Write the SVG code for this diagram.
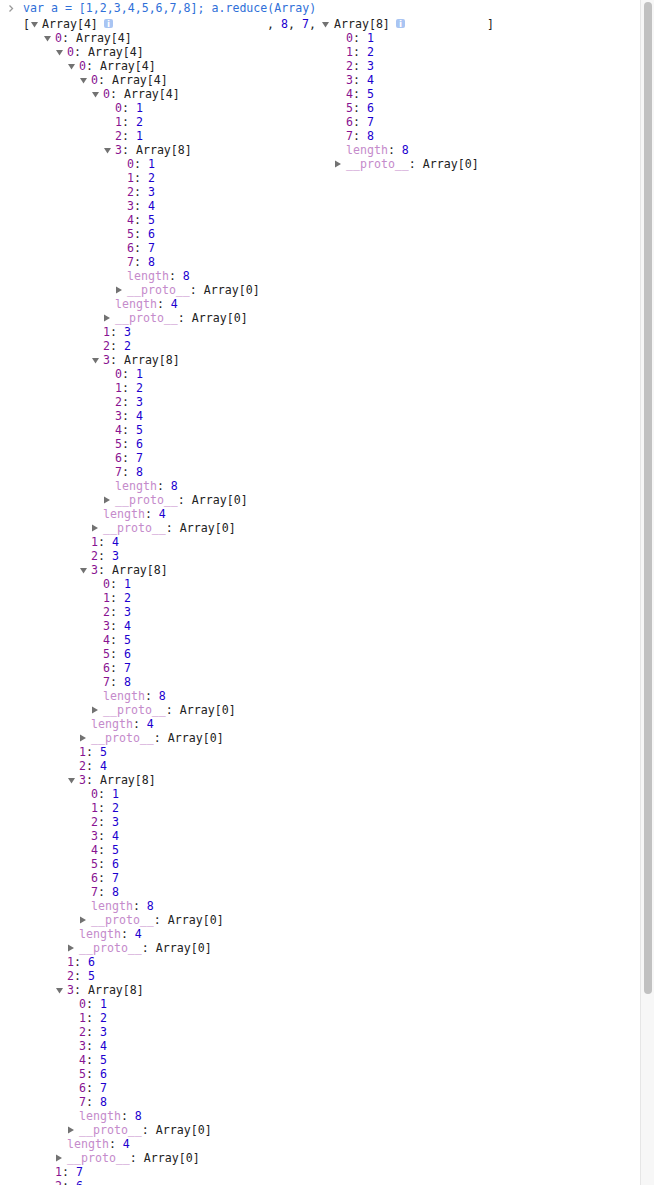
<svg xmlns="http://www.w3.org/2000/svg" xmlns:xlink="http://www.w3.org/1999/xlink" width="654" height="1185" viewBox="0 0 654 1185">
<style>
text{font-family:"DejaVu Sans Mono","Liberation Mono",monospace;font-size:11.6px;fill:#222}
.k{fill:#881391}
.n{fill:#1c00cf}
.f{fill:#c58bcb}
.c{fill:#2f6fd8}
.tri{fill:#727272}
.info{fill:#a9c5f3}
.infot{font-family:"DejaVu Sans","Liberation Sans",sans-serif;font-size:9px;font-weight:bold;fill:#fff}
</style>
<defs>
<path id="tdn" class="tri" d="M0,0H7L3.5,5.5Z"/>
<path id="trt" class="tri" d="M0,0L6,3.5L0,7Z"/>
</defs>
<rect width="654" height="1185" fill="#fff"/>
<g id="scrollbar">
<rect x="640" y="0" width="14" height="1185" fill="#f7f7f7"/>
<line x1="640.5" y1="0" x2="640.5" y2="1185" stroke="#e6e6e6"/>
<rect x="644" y="2" width="8" height="992" rx="4" fill="#c1c1c1"/>
</g>
<g id="command">
<path d="M9.5,5.5L12.5,8.5L9.5,11.5" fill="none" stroke="#9a9a9a" stroke-width="1.3"/>
<text x="23" y="12" class="c">var a = [1,2,3,4,5,6,7,8]; a.reduce(Array)</text>
</g>
<g id="result-header">
<text x="23" y="28">[</text>
<use xlink:href="#tdn" x="31" y="22"/>
<text x="42" y="28">Array[4]</text>
<rect class="info" x="104" y="19" width="9" height="9" rx="2"/>
<text class="infot" x="108.5" y="26.5" text-anchor="middle">i</text>
<text x="267" y="28">, <tspan class="n">8</tspan>, <tspan class="n">7</tspan>,</text>
<use xlink:href="#tdn" x="322" y="22"/>
<text x="334" y="28">Array[8]</text>
<rect class="info" x="396" y="19" width="9" height="9" rx="2"/>
<text class="infot" x="400.5" y="26.5" text-anchor="middle">i</text>
<text x="487" y="28">]</text>
</g>
<g id="tree-right">
<text x="346" y="42"><tspan class="k">0</tspan>: <tspan class="n">1</tspan></text>
<text x="346" y="56"><tspan class="k">1</tspan>: <tspan class="n">2</tspan></text>
<text x="346" y="70"><tspan class="k">2</tspan>: <tspan class="n">3</tspan></text>
<text x="346" y="84"><tspan class="k">3</tspan>: <tspan class="n">4</tspan></text>
<text x="346" y="98"><tspan class="k">4</tspan>: <tspan class="n">5</tspan></text>
<text x="346" y="112"><tspan class="k">5</tspan>: <tspan class="n">6</tspan></text>
<text x="346" y="126"><tspan class="k">6</tspan>: <tspan class="n">7</tspan></text>
<text x="346" y="140"><tspan class="k">7</tspan>: <tspan class="n">8</tspan></text>
<text x="346" y="154"><tspan class="f">length</tspan>: <tspan class="n">8</tspan></text>
<use xlink:href="#trt" x="335" y="160.5"/>
<text x="346" y="168"><tspan class="f">__proto__</tspan>: Array[0]</text>
</g>
<g id="tree-left">
<g id="arrA-head">
<use xlink:href="#tdn" x="44" y="36"/><text x="55" y="42"><tspan class="k">0</tspan>: Array[4]</text>
<use xlink:href="#tdn" x="56" y="50"/><text x="67" y="56"><tspan class="k">0</tspan>: Array[4]</text>
<use xlink:href="#tdn" x="68" y="64"/><text x="79" y="70"><tspan class="k">0</tspan>: Array[4]</text>
<use xlink:href="#tdn" x="80" y="78"/><text x="91" y="84"><tspan class="k">0</tspan>: Array[4]</text>
<use xlink:href="#tdn" x="92" y="92"/><text x="103" y="98"><tspan class="k">0</tspan>: Array[4]</text>
</g>
<g id="arrE">
<text x="115" y="112"><tspan class="k">0</tspan>: <tspan class="n">1</tspan></text>
<text x="115" y="126"><tspan class="k">1</tspan>: <tspan class="n">2</tspan></text>
<text x="115" y="140"><tspan class="k">2</tspan>: <tspan class="n">1</tspan></text>
<use xlink:href="#tdn" x="104" y="148"/><text x="115" y="154"><tspan class="k">3</tspan>: Array[8]</text>
<text x="127" y="168"><tspan class="k">0</tspan>: <tspan class="n">1</tspan></text>
<text x="127" y="182"><tspan class="k">1</tspan>: <tspan class="n">2</tspan></text>
<text x="127" y="196"><tspan class="k">2</tspan>: <tspan class="n">3</tspan></text>
<text x="127" y="210"><tspan class="k">3</tspan>: <tspan class="n">4</tspan></text>
<text x="127" y="224"><tspan class="k">4</tspan>: <tspan class="n">5</tspan></text>
<text x="127" y="238"><tspan class="k">5</tspan>: <tspan class="n">6</tspan></text>
<text x="127" y="252"><tspan class="k">6</tspan>: <tspan class="n">7</tspan></text>
<text x="127" y="266"><tspan class="k">7</tspan>: <tspan class="n">8</tspan></text>
<text x="127" y="280"><tspan class="f">length</tspan>: <tspan class="n">8</tspan></text>
<use xlink:href="#trt" x="116" y="286.5"/><text x="127" y="294"><tspan class="f">__proto__</tspan>: Array[0]</text>
<text x="115" y="308"><tspan class="f">length</tspan>: <tspan class="n">4</tspan></text>
<use xlink:href="#trt" x="104" y="314.5"/><text x="115" y="322"><tspan class="f">__proto__</tspan>: Array[0]</text>
</g>
<g id="arrD">
<text x="103" y="336"><tspan class="k">1</tspan>: <tspan class="n">3</tspan></text>
<text x="103" y="350"><tspan class="k">2</tspan>: <tspan class="n">2</tspan></text>
<use xlink:href="#tdn" x="92" y="358"/><text x="103" y="364"><tspan class="k">3</tspan>: Array[8]</text>
<text x="115" y="378"><tspan class="k">0</tspan>: <tspan class="n">1</tspan></text>
<text x="115" y="392"><tspan class="k">1</tspan>: <tspan class="n">2</tspan></text>
<text x="115" y="406"><tspan class="k">2</tspan>: <tspan class="n">3</tspan></text>
<text x="115" y="420"><tspan class="k">3</tspan>: <tspan class="n">4</tspan></text>
<text x="115" y="434"><tspan class="k">4</tspan>: <tspan class="n">5</tspan></text>
<text x="115" y="448"><tspan class="k">5</tspan>: <tspan class="n">6</tspan></text>
<text x="115" y="462"><tspan class="k">6</tspan>: <tspan class="n">7</tspan></text>
<text x="115" y="476"><tspan class="k">7</tspan>: <tspan class="n">8</tspan></text>
<text x="115" y="490"><tspan class="f">length</tspan>: <tspan class="n">8</tspan></text>
<use xlink:href="#trt" x="104" y="496.5"/><text x="115" y="504"><tspan class="f">__proto__</tspan>: Array[0]</text>
<text x="103" y="518"><tspan class="f">length</tspan>: <tspan class="n">4</tspan></text>
<use xlink:href="#trt" x="92" y="524.5"/><text x="103" y="532"><tspan class="f">__proto__</tspan>: Array[0]</text>
</g>
<g id="arrC">
<text x="91" y="546"><tspan class="k">1</tspan>: <tspan class="n">4</tspan></text>
<text x="91" y="560"><tspan class="k">2</tspan>: <tspan class="n">3</tspan></text>
<use xlink:href="#tdn" x="80" y="568"/><text x="91" y="574"><tspan class="k">3</tspan>: Array[8]</text>
<text x="103" y="588"><tspan class="k">0</tspan>: <tspan class="n">1</tspan></text>
<text x="103" y="602"><tspan class="k">1</tspan>: <tspan class="n">2</tspan></text>
<text x="103" y="616"><tspan class="k">2</tspan>: <tspan class="n">3</tspan></text>
<text x="103" y="630"><tspan class="k">3</tspan>: <tspan class="n">4</tspan></text>
<text x="103" y="644"><tspan class="k">4</tspan>: <tspan class="n">5</tspan></text>
<text x="103" y="658"><tspan class="k">5</tspan>: <tspan class="n">6</tspan></text>
<text x="103" y="672"><tspan class="k">6</tspan>: <tspan class="n">7</tspan></text>
<text x="103" y="686"><tspan class="k">7</tspan>: <tspan class="n">8</tspan></text>
<text x="103" y="700"><tspan class="f">length</tspan>: <tspan class="n">8</tspan></text>
<use xlink:href="#trt" x="92" y="706.5"/><text x="103" y="714"><tspan class="f">__proto__</tspan>: Array[0]</text>
<text x="91" y="728"><tspan class="f">length</tspan>: <tspan class="n">4</tspan></text>
<use xlink:href="#trt" x="80" y="734.5"/><text x="91" y="742"><tspan class="f">__proto__</tspan>: Array[0]</text>
</g>
<g id="arrB">
<text x="79" y="756"><tspan class="k">1</tspan>: <tspan class="n">5</tspan></text>
<text x="79" y="770"><tspan class="k">2</tspan>: <tspan class="n">4</tspan></text>
<use xlink:href="#tdn" x="68" y="778"/><text x="79" y="784"><tspan class="k">3</tspan>: Array[8]</text>
<text x="91" y="798"><tspan class="k">0</tspan>: <tspan class="n">1</tspan></text>
<text x="91" y="812"><tspan class="k">1</tspan>: <tspan class="n">2</tspan></text>
<text x="91" y="826"><tspan class="k">2</tspan>: <tspan class="n">3</tspan></text>
<text x="91" y="840"><tspan class="k">3</tspan>: <tspan class="n">4</tspan></text>
<text x="91" y="854"><tspan class="k">4</tspan>: <tspan class="n">5</tspan></text>
<text x="91" y="868"><tspan class="k">5</tspan>: <tspan class="n">6</tspan></text>
<text x="91" y="882"><tspan class="k">6</tspan>: <tspan class="n">7</tspan></text>
<text x="91" y="896"><tspan class="k">7</tspan>: <tspan class="n">8</tspan></text>
<text x="91" y="910"><tspan class="f">length</tspan>: <tspan class="n">8</tspan></text>
<use xlink:href="#trt" x="80" y="916.5"/><text x="91" y="924"><tspan class="f">__proto__</tspan>: Array[0]</text>
<text x="79" y="938"><tspan class="f">length</tspan>: <tspan class="n">4</tspan></text>
<use xlink:href="#trt" x="68" y="944.5"/><text x="79" y="952"><tspan class="f">__proto__</tspan>: Array[0]</text>
</g>
<g id="arrA">
<text x="67" y="966"><tspan class="k">1</tspan>: <tspan class="n">6</tspan></text>
<text x="67" y="980"><tspan class="k">2</tspan>: <tspan class="n">5</tspan></text>
<use xlink:href="#tdn" x="56" y="988"/><text x="67" y="994"><tspan class="k">3</tspan>: Array[8]</text>
<text x="79" y="1008"><tspan class="k">0</tspan>: <tspan class="n">1</tspan></text>
<text x="79" y="1022"><tspan class="k">1</tspan>: <tspan class="n">2</tspan></text>
<text x="79" y="1036"><tspan class="k">2</tspan>: <tspan class="n">3</tspan></text>
<text x="79" y="1050"><tspan class="k">3</tspan>: <tspan class="n">4</tspan></text>
<text x="79" y="1064"><tspan class="k">4</tspan>: <tspan class="n">5</tspan></text>
<text x="79" y="1078"><tspan class="k">5</tspan>: <tspan class="n">6</tspan></text>
<text x="79" y="1092"><tspan class="k">6</tspan>: <tspan class="n">7</tspan></text>
<text x="79" y="1106"><tspan class="k">7</tspan>: <tspan class="n">8</tspan></text>
<text x="79" y="1120"><tspan class="f">length</tspan>: <tspan class="n">8</tspan></text>
<use xlink:href="#trt" x="68" y="1126.5"/><text x="79" y="1134"><tspan class="f">__proto__</tspan>: Array[0]</text>
<text x="67" y="1148"><tspan class="f">length</tspan>: <tspan class="n">4</tspan></text>
<use xlink:href="#trt" x="56" y="1154.5"/><text x="67" y="1162"><tspan class="f">__proto__</tspan>: Array[0]</text>
</g>
<g id="arrTop">
<text x="55" y="1176"><tspan class="k">1</tspan>: <tspan class="n">7</tspan></text>
<text x="55" y="1190"><tspan class="k">2</tspan>: <tspan class="n">6</tspan></text>
</g>
</g>
</svg>
